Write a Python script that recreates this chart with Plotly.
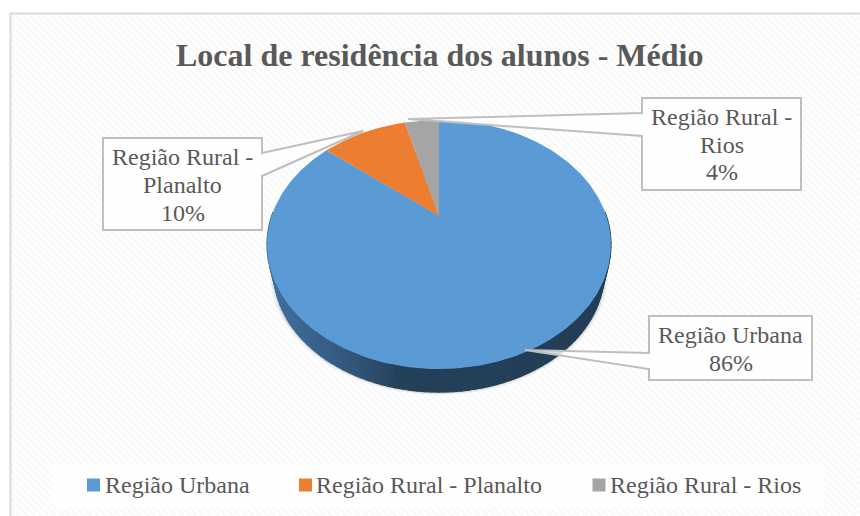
import numpy as np
import plotly.graph_objects as go

# ---- data ----
categories = ["Região Urbana", "Região Rural - Planalto", "Região Rural - Rios"]
values = [86, 10, 4]
label_lines = [["Região Urbana", "86%"], ["Região Rural -", "Planalto", "10%"], ["Região Rural -", "Rios", "4%"]]
colors = ["#5B9BD5", "#ED7D31", "#A5A5A5"]
title = "Local de residência dos alunos - Médio"

# ---- perspective pie geometry (pixel-based axes) ----
CX, CY = 439.0, 216.0
A, B, K = 167.4, 118.0, 0.229
MID_Y = 244.5
BASE_S, BASE_Y = 0.96, 272.5
GREY = "#595959"
FONT = "Liberation Serif"


def rim(theta):
    u, v = np.sin(theta), np.cos(theta)
    w = 1 + K * v
    return CX + A * u / w, CY - B * v / w


def base(theta, grow=0.0):
    x, y = rim(theta)
    s = BASE_S + grow
    return CX + (x - CX) * s, BASE_Y + (y - MID_Y) * s


fig = go.Figure()

# hatched chart area
fig.add_trace(go.Scatter(
    x=[10, 880, 880, 10, 10], y=[13, 13, 530, 530, 13], mode="lines", fill="toself",
    line=dict(width=0), fillcolor="#ffffff",
    fillpattern=dict(shape="\\", size=5, solidity=0.4, fgcolor="#f1f1f1", bgcolor="#ffffff"),
    hoverinfo="skip", showlegend=False))

# legend panel
fig.add_trace(go.Scatter(
    x=[53, 825, 825, 53, 53], y=[464, 464, 507, 507, 464], mode="lines", fill="toself",
    line=dict(width=0), fillcolor="rgba(255,255,255,0.8)", hoverinfo="skip", showlegend=False))

# soft shadow under the pie
t_all = np.linspace(0, 2 * np.pi, 240)
for grow, alpha in [(0.025, 0.04), (0.018, 0.06), (0.011, 0.09), (0.005, 0.12)]:
    mx, my = base(t_all, grow)
    fig.add_trace(go.Scatter(x=mx, y=my, mode="lines", fill="toself", line=dict(width=0),
                             fillcolor=f"rgba(60,60,60,{alpha})", hoverinfo="skip", showlegend=False))


def side_color(x):
    stops_x = [268, 340, 400, 620]
    r = np.interp(x, stops_x, [0x40, 0x34, 0x24, 0x23])
    g = np.interp(x, stops_x, [0x70, 0x5A, 0x40, 0x3E])
    b = np.interp(x, stops_x, [0x9E, 0x80, 0x5A, 0x55])
    return f"rgb({r:.0f},{g:.0f},{b:.0f})"


# pie wall, front part only
t_side = np.linspace(np.radians(88), np.radians(272), 91)
sx, sy = rim(t_side)
bx, by = base(t_side)
for i in range(len(t_side) - 1):
    xs = [sx[i], sx[i + 1], bx[i + 1], bx[i], sx[i]]
    ys = [sy[i], sy[i + 1], by[i + 1], by[i], sy[i]]
    c = side_color((sx[i] + sx[i + 1]) / 2)
    fig.add_trace(go.Scatter(x=xs, y=ys, mode="lines", fill="toself", line=dict(width=1.2, color=c),
                             fillcolor=c, hoverinfo="skip", showlegend=False))

# slices, clockwise from 12 o'clock
total = sum(values)
start = 0.0
for name, val, col in zip(categories, values, colors):
    end = start + val / total * 2 * np.pi
    t = np.linspace(start, end, max(int(val * 4), 12))
    px, py = rim(t)
    fig.add_trace(go.Scatter(
        x=np.r_[CX, px, CX], y=np.r_[CY, py, CY], mode="lines", fill="toself", name=name,
        line=dict(width=0), fillcolor=col, text=f"{name}: {val}%", hoverinfo="text", showlegend=False))
    start = end


def callout(x0, y0, x1, y1, side, ya, yb, tx, ty):
    if side == "left":
        d = f"M{x0},{y0} L{x1},{y0} L{x1},{y1} L{x0},{y1} L{x0},{yb} L{tx},{ty} L{x0},{ya} Z"
    else:
        d = f"M{x0},{y0} L{x1},{y0} L{x1},{ya} L{tx},{ty} L{x1},{yb} L{x1},{y1} L{x0},{y1} Z"
    return dict(type="path", path=d, xref="x", yref="y", layer="above",
                line=dict(color="#BFBFBF", width=2), fillcolor="rgba(255,255,255,0.82)")


shapes = [
    # chart frame
    dict(type="line", x0=10.5, x1=10.5, y0=13, y1=516, xref="x", yref="y", line=dict(color="#D9D9D9", width=2), layer="above"),
    dict(type="line", x0=10, x1=860, y0=13.5, y1=13.5, xref="x", yref="y", line=dict(color="#D9D9D9", width=2), layer="above"),
    callout(649, 316, 812, 380, "left", 353, 369, 525, 350),
    callout(103, 138, 262, 230, "right", 153, 176, 363, 131),
    callout(642, 98, 801, 190, "left", 113, 136, 408, 119),
]

annotations = [dict(x=439.5, y=54.5, text=f"<b>{title}</b>", showarrow=False, xanchor="center", yanchor="middle",
                    font=dict(family=FONT, size=32, color=GREY))]
LABEL_POS = [(730.5, [335, 363]), (182.5, [157, 185, 213]), (721.5, [117, 145, 172])]
for lines, (lx, ys) in zip(label_lines, LABEL_POS):
    for line, ly in zip(lines, ys):
        annotations.append(dict(x=lx, y=ly, text=line, showarrow=False, xanchor="center", yanchor="middle",
                                font=dict(family=FONT, size=24, color=GREY)))

# legend
LEG = [(93.5, 103), (305.5, 314), (599, 608)]
for name, col, (mx, tx) in zip(categories, colors, LEG):
    fig.add_trace(go.Scatter(x=[mx], y=[485], mode="markers", marker=dict(symbol="square", size=13, color=col, line=dict(width=0)),
                             hoverinfo="skip", showlegend=False))
    annotations.append(dict(x=tx, y=485, text=name, showarrow=False, xanchor="left", yanchor="middle",
                            font=dict(family=FONT, size=24, color=GREY)))

fig.update_layout(
    width=860, height=516, autosize=False, margin=dict(l=0, r=0, t=0, b=0, pad=0),
    paper_bgcolor="#ffffff", plot_bgcolor="#ffffff", showlegend=False,
    xaxis=dict(range=[0, 860], visible=False, fixedrange=True),
    yaxis=dict(range=[516, 0], visible=False, fixedrange=True),
    shapes=shapes, annotations=annotations,
)
fig.write_html("out.html", post_script="document.body.style.margin='0';", config={"displayModeBar": False})
